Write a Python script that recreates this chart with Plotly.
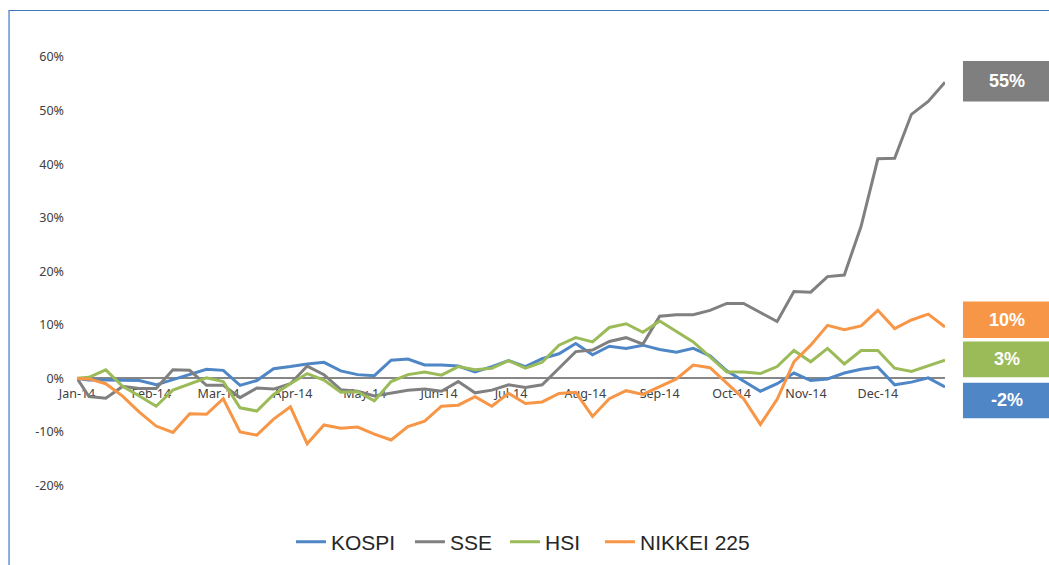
import plotly.graph_objects as go

# ---- data (weekly, % change since start of 2014) ----
dates = [
    "2014-01-01", "2014-01-06", "2014-01-13", "2014-01-20", "2014-01-27",
    "2014-02-03", "2014-02-10", "2014-02-17", "2014-02-24",
    "2014-03-03", "2014-03-10", "2014-03-17", "2014-03-24", "2014-03-31",
    "2014-04-07", "2014-04-14", "2014-04-21", "2014-04-28",
    "2014-05-05", "2014-05-12", "2014-05-19", "2014-05-26",
    "2014-06-02", "2014-06-09", "2014-06-16", "2014-06-23", "2014-06-30",
    "2014-07-07", "2014-07-14", "2014-07-21", "2014-07-28",
    "2014-08-04", "2014-08-11", "2014-08-18", "2014-08-25",
    "2014-09-01", "2014-09-08", "2014-09-15", "2014-09-22", "2014-09-29",
    "2014-10-06", "2014-10-13", "2014-10-20", "2014-10-27",
    "2014-11-03", "2014-11-10", "2014-11-17", "2014-11-24",
    "2014-12-01", "2014-12-08", "2014-12-15", "2014-12-22", "2014-12-29",
]

kospi = [0, -0.3, -0.3, -0.3, -0.4, -1.2, -0.2, 0.7, 1.7, 1.5, -1.3, -0.4, 1.8, 2.2,
         2.7, 3.0, 1.4, 0.7, 0.5, 3.4, 3.6, 2.5, 2.5, 2.3, 1.2, 2.2, 3.3, 2.2, 3.7,
         4.6, 6.5, 4.4, 6.0, 5.6, 6.2, 5.4, 4.9, 5.6, 4.2, 1.4, -0.5, -2.4, -1.0,
         1.0, -0.4, -0.1, 1.0, 1.7, 2.1, -1.2, -0.7, 0.1, -1.6]

sse = [0, -3.4, -3.7, -1.5, -1.9, -1.9, 1.6, 1.5, -1.3, -1.3, -3.6, -1.8, -2.0, -1.0,
       2.3, 0.7, -2.1, -2.4, -3.3, -2.7, -2.2, -2.0, -2.4, -0.6, -2.7, -2.2, -1.2,
       -1.7, -1.2, 1.9, 5.0, 5.3, 6.9, 7.6, 6.4, 11.6, 11.9, 11.9, 12.7, 14.0, 14.0,
       12.3, 10.6, 16.2, 16.1, 19.0, 19.3, 28.4, 41.0, 41.1, 49.3, 51.7, 55.3]

hsi = [0, 0.2, 1.6, -1.5, -3.3, -5.2, -2.2, -1.0, 0.1, -0.6, -5.5, -6.1, -3.0, -1.0,
       0.9, -0.3, -2.6, -2.5, -4.2, -0.6, 0.7, 1.2, 0.6, 2.2, 1.6, 1.9, 3.3, 1.9,
       3.0, 6.2, 7.6, 6.8, 9.5, 10.2, 8.6, 10.7, 8.8, 6.8, 4.0, 1.2, 1.2, 0.9, 2.2,
       5.2, 3.1, 5.6, 2.7, 5.2, 5.2, 1.9, 1.3, 2.3, 3.4]

nikkei = [0, -0.1, -1.0, -3.3, -6.3, -8.9, -10.1, -6.6, -6.7, -3.8, -10.0, -10.6,
          -7.6, -5.3, -12.2, -8.7, -9.3, -9.1, -10.4, -11.5, -9.0, -8.0, -5.2, -5.0,
          -3.4, -5.2, -2.8, -4.7, -4.4, -2.8, -2.6, -7.1, -3.8, -2.3, -3.0, -1.5,
          -0.1, 2.5, 2.0, -0.9, -3.8, -8.6, -3.9, 3.1, 6.2, 9.9, 9.1, 9.8, 12.7, 9.3,
          10.9, 12.0, 9.6]

series_names = ["KOSPI", "SSE", "HSI", "NIKKEI 225"]
series_colors = ["#4F86C6", "#808080", "#9BBB59", "#F79646"]
legend_widths = [74, 50, 50, 110]

y_tickvals = [-20, -10, 0, 10, 20, 30, 40, 50, 60]
y_ticktext = ["-20%", "-10%", "0%", "10%", "20%", "30%", "40%", "50%", "60%"]

x_tickvals = ["2014-01-01", "2014-02-01", "2014-03-01", "2014-04-01", "2014-05-01",
              "2014-06-01", "2014-07-01", "2014-08-01", "2014-09-01", "2014-10-01",
              "2014-11-01", "2014-12-01"]
x_ticktext = ["Jan-14", "Feb-14", "Mar-14", "Apr-14", "May-14", "Jun-14", "Jul-14",
              "Aug-14", "Sep-14", "Oct-14", "Nov-14", "Dec-14"]

# end-of-period callout labels: text, colour, box bottom/top (in % units)
callout_text = ["55%", "10%", "3%", "-2%"]
callout_colors = ["#7F7F7F", "#F79646", "#9BBB59", "#4F86C6"]
callout_y0 = [51.7, 7.55, 0.2, -7.45]
callout_y1 = [59.25, 14.35, 6.9, -0.8]

# ---- figure ----
fig = go.Figure()
for name, vals, col, lw in zip(series_names, [kospi, sse, hsi, nikkei],
                               series_colors, legend_widths):
    fig.add_trace(go.Scatter(
        x=dates, y=vals, name=name, mode="lines",
        line=dict(color=col, width=3),
        legendwidth=lw,
    ))

shapes = []
annotations = []
# outer chart border
shapes.append(dict(type="rect", xref="paper", yref="paper",
                   x0=-0.0783, x1=1.3, y0=-0.4, y1=1.1085,
                   line=dict(color="#3F78BE", width=1.2), fillcolor="rgba(0,0,0,0)",
                   layer="below"))
for t, c, y0, y1 in zip(callout_text, callout_colors, callout_y0, callout_y1):
    shapes.append(dict(type="rect", xref="paper", yref="y",
                       x0=1.0207, x1=1.13, y0=y0, y1=y1,
                       line=dict(width=0), fillcolor=c))
    annotations.append(dict(xref="paper", yref="y", x=1.0714, y=(y0 + y1) / 2,
                            text=t, showarrow=False, xanchor="center", yanchor="middle",
                            font=dict(family="Liberation Sans", size=18, color="white",
                                      weight="bold")))

fig.update_layout(
    width=1049, height=565, autosize=False,
    margin=dict(l=77, r=104, t=57, b=75),
    paper_bgcolor="white", plot_bgcolor="white",
    shapes=shapes, annotations=annotations,
    showlegend=True,
    legend=dict(orientation="h", xref="paper", yref="container",
                x=0.2465, xanchor="left", y=0.0407, yanchor="middle",
                font=dict(family="Liberation Sans", size=21, color="#262626"),
                bgcolor="rgba(0,0,0,0)"),
    xaxis=dict(
        type="date", range=["2014-01-01", "2014-12-29"],
        tickvals=x_tickvals, ticktext=x_ticktext,
        showgrid=False, zeroline=False,
        showline=True, linecolor="#868686", linewidth=2,
        anchor="free", position=0.25, layer="below traces",
        ticks="", ticklabelstandoff=4,
        tickfont=dict(family="Noto Sans", size=12.5, color="#404040"),
    ),
    yaxis=dict(
        range=[-20, 60], tickvals=y_tickvals, ticktext=y_ticktext,
        showgrid=False, zeroline=False, showline=False, ticks="",
        ticklabelstandoff=12,
        tickfont=dict(family="Noto Sans", size=12.5, color="#404040"),
    ),
)

fig.write_html("out.html", config={"displayModeBar": False})

# remove the default 8px page margin so the figure sits at the window's top-left
with open("out.html", "r", encoding="utf-8") as f:
    html = f.read()
html = html.replace("<body>", '<body style="margin:0;padding:0;">', 1)
with open("out.html", "w", encoding="utf-8") as f:
    f.write(html)
